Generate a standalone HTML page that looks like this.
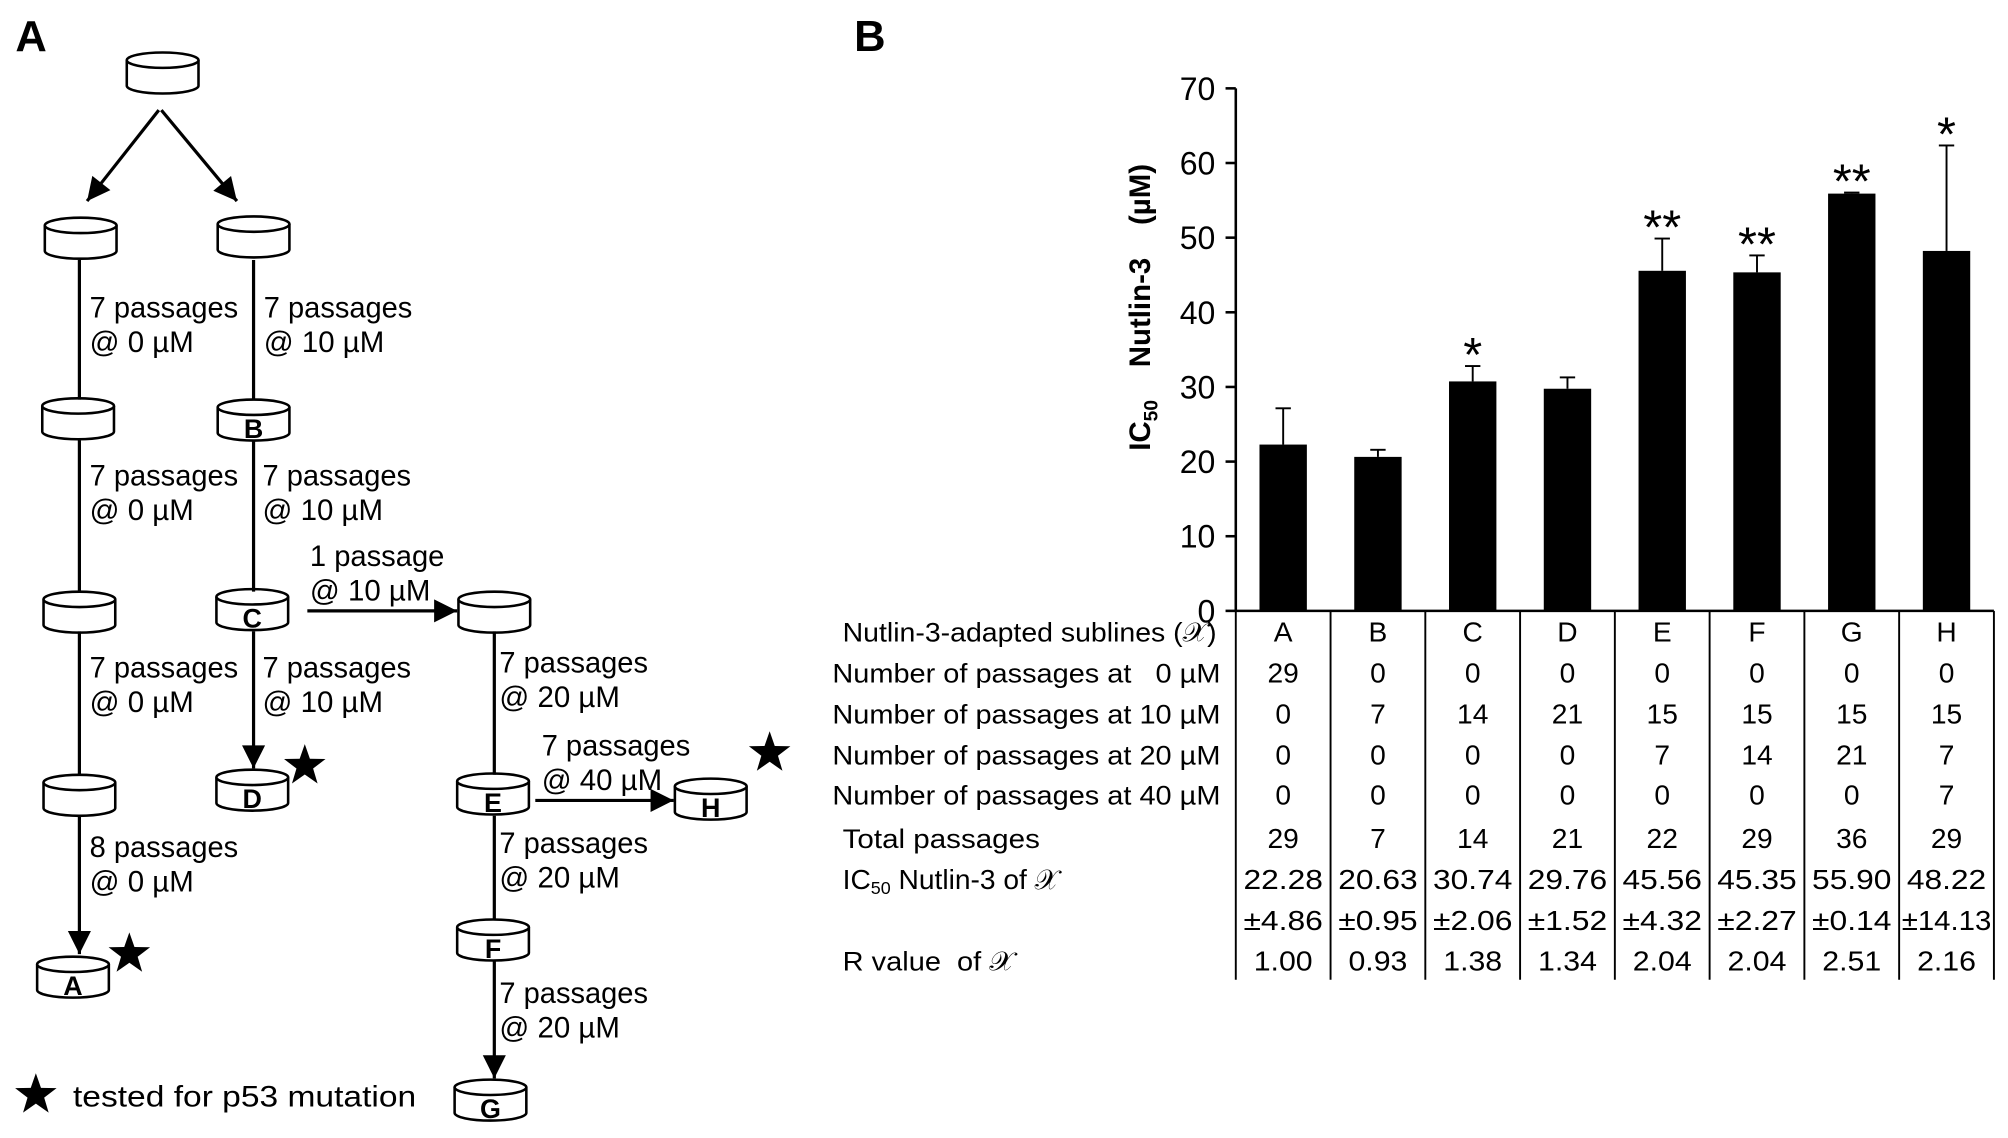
<!DOCTYPE html>
<html><head><meta charset="utf-8"><style>
html,body{margin:0;padding:0;background:#fff}
svg{display:block}
text{font-family:"Liberation Sans",Arial,sans-serif;fill:#000}
</style></head><body>
<svg id="fig" width="2008" height="1138" viewBox="0 0 1568 888.6" preserveAspectRatio="none" xmlns="http://www.w3.org/2000/svg">
<text x="12" y="40" font-size="34" font-weight="bold">A</text>
<text x="667" y="40" font-size="34" font-weight="bold">B</text>
<g id="diagram"></g>
<g id="chart"></g>
<g id="table"></g>
</svg>
<script>
const categories = ["A","B","C","D","E","F","G","H"];
const ic50Values = [22.28,20.63,30.74,29.76,45.56,45.35,55.90,48.22];
const ic50Errors = [4.86,0.95,2.06,1.52,4.32,2.27,0.14,14.13];
const significance = ["","","*","","**","**","**","*"];
const yTicks = [0,10,20,30,40,50,60,70];
const rowLabels = ["Nutlin-3-adapted sublines (\u{1D4B3})","Number of passages at \u00A0 0 \u00B5M","Number of passages at 10 \u00B5M","Number of passages at 20 \u00B5M","Number of passages at 40 \u00B5M","Total passages","IC50 Nutlin-3 of \u{1D4B3}","","R value \u00A0of \u{1D4B3}"];
const passages0 = ["29","0","0","0","0","0","0","0"];
const passages10 = ["0","7","14","21","15","15","15","15"];
const passages20 = ["0","0","0","0","7","14","21","7"];
const passages40 = ["0","0","0","0","0","0","0","7"];
const totalPassages = ["29","7","14","21","22","29","36","29"];
const ic50Text = ["22.28","20.63","30.74","29.76","45.56","45.35","55.90","48.22"];
const ic50ErrText = ["\u00B14.86","\u00B10.95","\u00B12.06","\u00B11.52","\u00B14.32","\u00B12.27","\u00B10.14","\u00B114.13"];
const rValues = ["1.00","0.93","1.38","1.34","2.04","2.04","2.51","2.16"];

const NS="http://www.w3.org/2000/svg";
function mk(parent,tag,attrs,txt){const e=document.createElementNS(NS,tag);for(const k in attrs)e.setAttribute(k,attrs[k]);if(txt!==undefined)e.textContent=txt;parent.appendChild(e);return e;}

const X0=965, BAND=74, Y0=477, YTOP=69, YMAX=70;
const xBand=i=>X0+i*BAND;
const y=v=>Y0-(v/YMAX)*(Y0-YTOP);
const chart=document.getElementById('chart');
let el=mk(chart,'line',{x1:X0,y1:YTOP,x2:X0,y2:Y0,stroke:'#000','stroke-width':2});


yTicks.forEach(t=>{
  let tk=mk(chart,'line',{x1:X0-8,y1:y(t),x2:X0,y2:y(t),stroke:'#000','stroke-width':2});
  
  
  let lb=mk(chart,'text',{x:X0-16,y:y(t)+9,'font-size':25,'text-anchor':'end'},String(t));
  
  
});
const yt=mk(chart,'text',{transform:'translate(898,240) rotate(-90)','font-size':23,'font-weight':'bold','text-anchor':'middle'});


yt.innerHTML='IC<tspan font-size="15" dy="6">50</tspan><tspan dy="-6" xml:space="preserve">    Nutlin-3    (\u00B5M)</tspan>';
categories.forEach((c,i)=>{
  const cx=xBand(i)+BAND/2, bw=37;
  const top=y(ic50Values[i]);
  let b=mk(chart,'rect',{x:cx-bw/2,y:top,width:bw,height:Y0-top,fill:'#000'});
  
  
  const et=y(ic50Values[i]+ic50Errors[i]);
  let e1=mk(chart,'line',{x1:cx,y1:top,x2:cx,y2:et,stroke:'#000','stroke-width':1.5});
  
  
  let e2=mk(chart,'line',{x1:cx-6,y1:et,x2:cx+6,y2:et,stroke:'#000','stroke-width':1.5});
  
  
  if(significance[i]){
    let s=mk(chart,'text',{x:cx,y:et+4,'font-size':38,'text-anchor':'middle'},significance[i]);
    
    
  }
});

const tbl=document.getElementById('table');
let xl=mk(tbl,'line',{x1:X0,y1:Y0,x2:xBand(8),y2:Y0,stroke:'#000','stroke-width':2});


for(let i=0;i<=8;i++){
  let v=mk(tbl,'line',{x1:xBand(i),y1:Y0,x2:xBand(i),y2:765,stroke:'#000','stroke-width':1.5});
  
  
}
const rowY=[501,533,565,597,628,662,694,726,758];
const rows=[categories,passages0,passages10,passages20,passages40,totalPassages,ic50Text,ic50ErrText,rValues];
const labelX=[658,650,650,650,650,658,658,0,658];
const labelW=[292,303,303,303,303,154,170,0,134];
rowLabels.forEach((l,r)=>{
  if(!l)return;
  let t=mk(tbl,'text',{x:labelX[r],y:rowY[r],'font-size':21,textLength:labelW[r],lengthAdjust:'spacingAndGlyphs'});
  if(r===6){t.innerHTML='IC<tspan font-size="14" dy="4">50</tspan><tspan dy="-4"> Nutlin-3 of \u{1D4B3}</tspan>';t.removeAttribute('textLength');t.setAttribute('font-size','22');}
  else t.textContent=l;
  
  
});
rows.forEach((arr,r)=>{
  arr.forEach((v,i)=>{
    let t=mk(tbl,'text',{x:xBand(i)+BAND/2,y:rowY[r],'font-size':22,'text-anchor':'middle'},v);
    if(v.length>=4) {t.setAttribute('textLength', v.length>5?70:(v.length>4?62:46));t.setAttribute('lengthAdjust','spacingAndGlyphs');}
    
    
  });
});

const dg=document.getElementById('diagram');
function cyl(cx,cy,label,name){
  const w=56,h=32,ry=6,x0=cx-w/2,x1=cx+w/2,t=cy-h/2+ry,b=cy+h/2-ry;
  const g=mk(dg,'g',{});
  
  
  mk(g,'path',{d:`M${x0},${t} L${x0},${b} A${w/2},${ry} 0 0 0 ${x1},${b} L${x1},${t}`,fill:'#fff',stroke:'#000','stroke-width':2});
  mk(g,'ellipse',{cx:cx,cy:t,rx:w/2,ry:ry,fill:'#fff',stroke:'#000','stroke-width':2});
  if(label) mk(g,'text',{x:cx,y:cy+14,'font-size':21,'font-weight':'bold','text-anchor':'middle'},label);
}
function ln(x1,y1,x2,y2,arrow){
  const l=mk(dg,'line',{x1,y1,x2,y2,stroke:'#000','stroke-width':2.5});
  
  
  if(arrow){
    const a=Math.atan2(y2-y1,x2-x1),L=18,W=9;
    const bx=x2-L*Math.cos(a),by=y2-L*Math.sin(a);
    const p=mk(dg,'polygon',{points:`${x2},${y2} ${bx+W*Math.sin(a)},${by-W*Math.cos(a)} ${bx-W*Math.sin(a)},${by+W*Math.cos(a)}`,fill:'#000'});
    
    
  }
}
function lbl(x,y1,a,b){
  const t=mk(dg,'text',{x:x,y:y1,'font-size':23,textLength:a.length===10?116:105,lengthAdjust:'spacingAndGlyphs'},a);
  
  
  const t2=mk(dg,'text',{x:x,y:y1+27,'font-size':23},b);
  
  
}
function star(cx,cy,r){
  let pts=[];for(let k=0;k<10;k++){const rr=k%2?r*0.4:r;const an=-Math.PI/2+k*Math.PI/5;pts.push((cx+rr*Math.cos(an)).toFixed(1)+','+(cy+rr*Math.sin(an)).toFixed(1));}
  const s=mk(dg,'polygon',{points:pts.join(' '),fill:'#000'});
  
  
}
cyl(127,57,'','root-culture');
cyl(63,186,'','culture-l1'); cyl(198,185,'','culture-r1');
cyl(61,327,'','culture-l2'); cyl(198,328,'B','subline-b');
cyl(62,478,'','culture-l3'); cyl(197,476,'C','subline-c');
cyl(62,621,'','culture-l4'); cyl(197,617,'D','subline-d');
cyl(57,763,'A','subline-a');
cyl(386,478,'','culture-e0'); cyl(385,620,'E','subline-e'); cyl(555,624,'H','subline-h');
cyl(385,734,'F','subline-f'); cyl(383,859,'G','subline-g');
ln(124,86,68,157,true); ln(126,86,185,157,true);
ln(62,203,62,312); ln(198,203,198,312);
ln(62,344,62,462); ln(198,344,198,462);
ln(62,493,62,605); ln(198,493,198,600,true);
ln(62,637,62,745,true);
ln(240,477,357,477,true);
ln(386,493,386,605); ln(418,625,526,625,true);
ln(386,637,386,718); ln(386,750,386,842,true);
lbl(70,248,'7 passages','@ 0 \u00B5M'); lbl(206,248,'7 passages','@ 10 \u00B5M');
lbl(70,379,'7 passages','@ 0 \u00B5M'); lbl(205,379,'7 passages','@ 10 \u00B5M');
lbl(242,442,'1 passage','@ 10 \u00B5M');
lbl(70,529,'7 passages','@ 0 \u00B5M'); lbl(205,529,'7 passages','@ 10 \u00B5M');
lbl(70,669,'8 passages','@ 0 \u00B5M');
lbl(390,525,'7 passages','@ 20 \u00B5M');
lbl(423,590,'7 passages','@ 40 \u00B5M');
lbl(390,666,'7 passages','@ 20 \u00B5M');
lbl(390,783,'7 passages','@ 20 \u00B5M');
star(238,598,17); star(101,745,17); star(601,588,17); star(28,855,17);
const lg=mk(dg,'text',{x:57,y:864,'font-size':23,textLength:268,lengthAdjust:'spacingAndGlyphs'},'tested for p53 mutation');


</script>
</body></html>
